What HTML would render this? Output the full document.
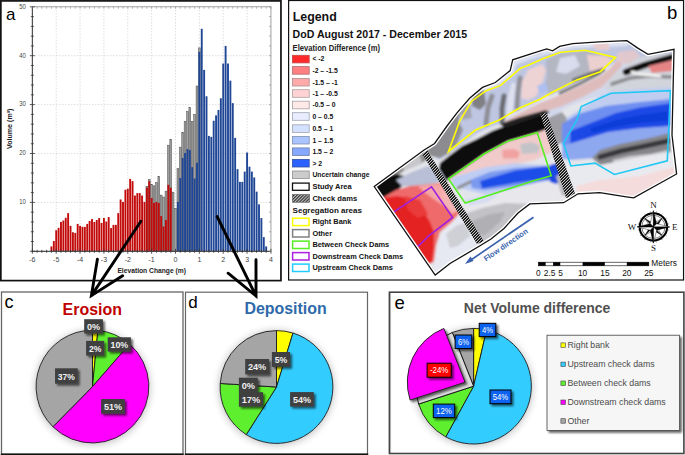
<!DOCTYPE html><html><head><meta charset="utf-8"><style>html,body{margin:0;padding:0;background:#fff;width:685px;height:455px;overflow:hidden}svg{display:block}text{font-family:"Liberation Sans",sans-serif}</style></head><body>
<svg width="685" height="455" viewBox="0 0 685 455">
<defs><pattern id="hatch" width="2.2" height="2.2" patternUnits="userSpaceOnUse" patternTransform="rotate(45)"><rect width="2.2" height="2.2" fill="#c0c0c0"/><rect width="1" height="2.2" fill="#222"/></pattern><filter id="sh" x="-20%" y="-20%" width="160%" height="160%"><feGaussianBlur in="SourceAlpha" stdDeviation="1"/><feOffset dx="1.5" dy="1.5"/><feComponentTransfer><feFuncA type="linear" slope="0.6"/></feComponentTransfer><feMerge><feMergeNode/><feMergeNode in="SourceGraphic"/></feMerge></filter><filter id="pshadow" x="-30%" y="-30%" width="160%" height="160%"><feGaussianBlur in="SourceAlpha" stdDeviation="4.5"/><feOffset dx="0" dy="1"/><feComponentTransfer><feFuncA type="linear" slope="0.3"/></feComponentTransfer><feMerge><feMergeNode/><feMergeNode in="SourceGraphic"/></feMerge></filter></defs>
<rect x="0.85" y="0.9" width="280.1" height="279.7" fill="#fff" stroke="#111" stroke-width="1.7"/>
<text x="6" y="19.6" font-size="17" fill="#000">a</text>
<path d="M32.34,202.40H270.94M32.34,153.50H270.94M32.34,104.60H270.94M32.34,55.70H270.94M56.20,251.30V6.80M80.06,251.30V6.80M103.92,251.30V6.80M127.78,251.30V6.80M151.64,251.30V6.80M175.50,251.30V6.80M199.36,251.30V6.80M223.22,251.30V6.80M247.08,251.30V6.80" stroke="#b8b8b8" stroke-width="0.7" stroke-dasharray="1 2" fill="none"/>
<rect x="145.97" y="186.26" width="1.79" height="65.04" fill="#a0a0a0" stroke="#505050" stroke-width="0.5"/>
<rect x="148.36" y="179.42" width="1.79" height="71.88" fill="#a0a0a0" stroke="#505050" stroke-width="0.5"/>
<rect x="150.75" y="184.31" width="1.79" height="66.99" fill="#a0a0a0" stroke="#505050" stroke-width="0.5"/>
<rect x="153.13" y="185.77" width="1.79" height="65.53" fill="#a0a0a0" stroke="#505050" stroke-width="0.5"/>
<rect x="155.52" y="182.35" width="1.79" height="68.95" fill="#a0a0a0" stroke="#505050" stroke-width="0.5"/>
<rect x="157.91" y="176.48" width="1.79" height="74.82" fill="#a0a0a0" stroke="#505050" stroke-width="0.5"/>
<rect x="160.29" y="195.06" width="1.79" height="56.24" fill="#a0a0a0" stroke="#505050" stroke-width="0.5"/>
<rect x="162.68" y="197.02" width="1.79" height="54.28" fill="#a0a0a0" stroke="#505050" stroke-width="0.5"/>
<rect x="165.06" y="191.15" width="1.79" height="60.15" fill="#a0a0a0" stroke="#505050" stroke-width="0.5"/>
<rect x="167.45" y="145.19" width="1.79" height="106.11" fill="#a0a0a0" stroke="#505050" stroke-width="0.5"/>
<rect x="169.84" y="139.32" width="1.79" height="111.98" fill="#a0a0a0" stroke="#505050" stroke-width="0.5"/>
<rect x="172.22" y="192.13" width="1.79" height="59.17" fill="#a0a0a0" stroke="#505050" stroke-width="0.5"/>
<rect x="174.61" y="208.27" width="1.79" height="43.03" fill="#a0a0a0" stroke="#505050" stroke-width="0.5"/>
<rect x="176.99" y="168.66" width="1.79" height="82.64" fill="#a0a0a0" stroke="#505050" stroke-width="0.5"/>
<rect x="179.38" y="147.14" width="1.79" height="104.16" fill="#a0a0a0" stroke="#505050" stroke-width="0.5"/>
<rect x="181.76" y="132.47" width="1.79" height="118.83" fill="#a0a0a0" stroke="#505050" stroke-width="0.5"/>
<rect x="184.15" y="121.23" width="1.79" height="130.07" fill="#a0a0a0" stroke="#505050" stroke-width="0.5"/>
<rect x="186.54" y="111.45" width="1.79" height="139.85" fill="#a0a0a0" stroke="#505050" stroke-width="0.5"/>
<rect x="188.92" y="107.53" width="1.79" height="143.77" fill="#a0a0a0" stroke="#505050" stroke-width="0.5"/>
<rect x="191.31" y="121.23" width="1.79" height="130.07" fill="#a0a0a0" stroke="#505050" stroke-width="0.5"/>
<rect x="193.69" y="114.38" width="1.79" height="136.92" fill="#a0a0a0" stroke="#505050" stroke-width="0.5"/>
<rect x="196.08" y="86.02" width="1.79" height="165.28" fill="#a0a0a0" stroke="#505050" stroke-width="0.5"/>
<rect x="198.47" y="47.88" width="1.79" height="203.42" fill="#a0a0a0" stroke="#505050" stroke-width="0.5"/>
<rect x="50.48" y="246.41" width="1.89" height="4.89" fill="#c20a0a"/>
<rect x="52.87" y="241.03" width="1.89" height="10.27" fill="#c20a0a"/>
<rect x="55.26" y="230.27" width="1.89" height="21.03" fill="#c20a0a"/>
<rect x="57.64" y="227.83" width="1.89" height="23.47" fill="#c20a0a"/>
<rect x="60.03" y="221.96" width="1.89" height="29.34" fill="#c20a0a"/>
<rect x="62.42" y="220.49" width="1.89" height="30.81" fill="#c20a0a"/>
<rect x="64.80" y="217.80" width="1.89" height="33.50" fill="#c20a0a"/>
<rect x="67.19" y="213.16" width="1.89" height="38.14" fill="#c20a0a"/>
<rect x="69.57" y="225.87" width="1.89" height="25.43" fill="#c20a0a"/>
<rect x="71.96" y="232.23" width="1.89" height="19.07" fill="#c20a0a"/>
<rect x="74.34" y="232.96" width="1.89" height="18.34" fill="#c20a0a"/>
<rect x="76.73" y="223.92" width="1.89" height="27.38" fill="#c20a0a"/>
<rect x="79.12" y="225.87" width="1.89" height="25.43" fill="#c20a0a"/>
<rect x="81.50" y="226.85" width="1.89" height="24.45" fill="#c20a0a"/>
<rect x="83.89" y="226.85" width="1.89" height="24.45" fill="#c20a0a"/>
<rect x="86.28" y="223.92" width="1.89" height="27.38" fill="#c20a0a"/>
<rect x="88.66" y="220.98" width="1.89" height="30.32" fill="#c20a0a"/>
<rect x="91.05" y="219.03" width="1.89" height="32.27" fill="#c20a0a"/>
<rect x="93.43" y="221.96" width="1.89" height="29.34" fill="#c20a0a"/>
<rect x="95.82" y="220.00" width="1.89" height="31.30" fill="#c20a0a"/>
<rect x="98.20" y="218.05" width="1.89" height="33.25" fill="#c20a0a"/>
<rect x="100.59" y="222.94" width="1.89" height="28.36" fill="#c20a0a"/>
<rect x="102.98" y="218.05" width="1.89" height="33.25" fill="#c20a0a"/>
<rect x="105.36" y="221.47" width="1.89" height="29.83" fill="#c20a0a"/>
<rect x="107.75" y="217.07" width="1.89" height="34.23" fill="#c20a0a"/>
<rect x="110.14" y="228.07" width="1.89" height="23.23" fill="#c20a0a"/>
<rect x="112.52" y="224.89" width="1.89" height="26.41" fill="#c20a0a"/>
<rect x="114.91" y="224.89" width="1.89" height="26.41" fill="#c20a0a"/>
<rect x="117.29" y="213.16" width="1.89" height="38.14" fill="#c20a0a"/>
<rect x="119.68" y="199.47" width="1.89" height="51.83" fill="#c20a0a"/>
<rect x="122.06" y="201.91" width="1.89" height="49.39" fill="#c20a0a"/>
<rect x="124.45" y="189.69" width="1.89" height="61.61" fill="#c20a0a"/>
<rect x="126.84" y="188.71" width="1.89" height="62.59" fill="#c20a0a"/>
<rect x="129.22" y="178.93" width="1.89" height="72.37" fill="#c20a0a"/>
<rect x="131.61" y="181.13" width="1.89" height="70.17" fill="#c20a0a"/>
<rect x="133.99" y="195.55" width="1.89" height="55.75" fill="#c20a0a"/>
<rect x="136.38" y="193.11" width="1.89" height="58.19" fill="#c20a0a"/>
<rect x="138.77" y="193.11" width="1.89" height="58.19" fill="#c20a0a"/>
<rect x="141.15" y="195.55" width="1.89" height="55.75" fill="#c20a0a"/>
<rect x="143.54" y="201.91" width="1.89" height="49.39" fill="#c20a0a"/>
<rect x="145.92" y="187.73" width="1.89" height="63.57" fill="#c20a0a"/>
<rect x="148.31" y="181.13" width="1.89" height="70.17" fill="#c20a0a"/>
<rect x="150.70" y="198.00" width="1.89" height="53.30" fill="#c20a0a"/>
<rect x="153.08" y="202.89" width="1.89" height="48.41" fill="#c20a0a"/>
<rect x="155.47" y="201.91" width="1.89" height="49.39" fill="#c20a0a"/>
<rect x="157.85" y="202.89" width="1.89" height="48.41" fill="#c20a0a"/>
<rect x="160.24" y="216.09" width="1.89" height="35.21" fill="#c20a0a"/>
<rect x="162.63" y="226.36" width="1.89" height="24.94" fill="#c20a0a"/>
<rect x="165.01" y="220.00" width="1.89" height="31.30" fill="#c20a0a"/>
<rect x="167.40" y="184.80" width="1.89" height="66.50" fill="#c20a0a"/>
<rect x="169.78" y="187.73" width="1.89" height="63.57" fill="#c20a0a"/>
<rect x="176.94" y="201.91" width="1.89" height="49.39" fill="#1f4796"/>
<rect x="179.33" y="177.95" width="1.89" height="73.35" fill="#1f4796"/>
<rect x="181.71" y="157.90" width="1.89" height="93.40" fill="#1f4796"/>
<rect x="184.10" y="153.01" width="1.89" height="98.29" fill="#1f4796"/>
<rect x="186.49" y="149.10" width="1.89" height="102.20" fill="#1f4796"/>
<rect x="188.87" y="150.08" width="1.89" height="101.22" fill="#1f4796"/>
<rect x="191.26" y="167.19" width="1.89" height="84.11" fill="#1f4796"/>
<rect x="193.64" y="178.44" width="1.89" height="72.86" fill="#1f4796"/>
<rect x="196.03" y="162.79" width="1.89" height="88.51" fill="#1f4796"/>
<rect x="198.42" y="51.79" width="1.89" height="199.51" fill="#1f4796"/>
<rect x="200.80" y="28.81" width="1.89" height="222.49" fill="#1f4796"/>
<rect x="203.19" y="69.88" width="1.89" height="181.42" fill="#1f4796"/>
<rect x="205.57" y="96.29" width="1.89" height="155.01" fill="#1f4796"/>
<rect x="207.96" y="135.90" width="1.89" height="115.40" fill="#1f4796"/>
<rect x="210.35" y="136.87" width="1.89" height="114.43" fill="#1f4796"/>
<rect x="212.73" y="120.74" width="1.89" height="130.56" fill="#1f4796"/>
<rect x="215.12" y="115.36" width="1.89" height="135.94" fill="#1f4796"/>
<rect x="217.50" y="109.98" width="1.89" height="141.32" fill="#1f4796"/>
<rect x="219.89" y="98.24" width="1.89" height="153.06" fill="#1f4796"/>
<rect x="222.28" y="63.52" width="1.89" height="187.78" fill="#1f4796"/>
<rect x="224.66" y="45.92" width="1.89" height="205.38" fill="#1f4796"/>
<rect x="227.05" y="63.52" width="1.89" height="187.78" fill="#1f4796"/>
<rect x="229.43" y="80.64" width="1.89" height="170.66" fill="#1f4796"/>
<rect x="231.82" y="103.13" width="1.89" height="148.17" fill="#1f4796"/>
<rect x="234.21" y="137.85" width="1.89" height="113.45" fill="#1f4796"/>
<rect x="236.59" y="169.15" width="1.89" height="82.15" fill="#1f4796"/>
<rect x="238.98" y="181.86" width="1.89" height="69.44" fill="#1f4796"/>
<rect x="241.36" y="181.86" width="1.89" height="69.44" fill="#1f4796"/>
<rect x="243.75" y="171.59" width="1.89" height="79.71" fill="#1f4796"/>
<rect x="246.14" y="152.52" width="1.89" height="98.78" fill="#1f4796"/>
<rect x="248.52" y="166.70" width="1.89" height="84.60" fill="#1f4796"/>
<rect x="250.91" y="171.59" width="1.89" height="79.71" fill="#1f4796"/>
<rect x="253.29" y="177.46" width="1.89" height="73.84" fill="#1f4796"/>
<rect x="255.68" y="191.64" width="1.89" height="59.66" fill="#1f4796"/>
<rect x="258.07" y="204.36" width="1.89" height="46.94" fill="#1f4796"/>
<rect x="260.45" y="218.05" width="1.89" height="33.25" fill="#1f4796"/>
<rect x="262.84" y="237.12" width="1.89" height="14.18" fill="#1f4796"/>
<rect x="265.23" y="246.41" width="1.89" height="4.89" fill="#1f4796"/>
<rect x="32.34" y="6.80" width="238.60" height="244.50" fill="none" stroke="#888" stroke-width="0.8"/>
<path d="M32.34,251.30H270.94M32.34,251.30V6.80" stroke="#333" stroke-width="0.9" fill="none"/>
<path d="M29.84,251.30h5M30.84,241.52h3M30.84,231.74h3M30.84,221.96h3M30.84,212.18h3M29.84,202.40h5M30.84,192.62h3M30.84,182.84h3M30.84,173.06h3M30.84,163.28h3M29.84,153.50h5M30.84,143.72h3M30.84,133.94h3M30.84,124.16h3M30.84,114.38h3M29.84,104.60h5M30.84,94.82h3M30.84,85.04h3M30.84,75.26h3M30.84,65.48h3M29.84,55.70h5M30.84,45.92h3M30.84,36.14h3M30.84,26.36h3M30.84,16.58h3M29.84,6.80h5M32.34,248.80v5M37.11,249.80v3M41.88,249.80v3M46.66,249.80v3M51.43,249.80v3M56.20,248.80v5M60.97,249.80v3M65.74,249.80v3M70.52,249.80v3M75.29,249.80v3M80.06,248.80v5M84.83,249.80v3M89.60,249.80v3M94.38,249.80v3M99.15,249.80v3M103.92,248.80v5M108.69,249.80v3M113.46,249.80v3M118.24,249.80v3M123.01,249.80v3M127.78,248.80v5M132.55,249.80v3M137.32,249.80v3M142.10,249.80v3M146.87,249.80v3M151.64,248.80v5M156.41,249.80v3M161.18,249.80v3M165.96,249.80v3M170.73,249.80v3M175.50,248.80v5M180.27,249.80v3M185.04,249.80v3M189.82,249.80v3M194.59,249.80v3M199.36,248.80v5M204.13,249.80v3M208.90,249.80v3M213.68,249.80v3M218.45,249.80v3M223.22,248.80v5M227.99,249.80v3M232.76,249.80v3M237.54,249.80v3M242.31,249.80v3M247.08,248.80v5M251.85,249.80v3M256.62,249.80v3M261.40,249.80v3M266.17,249.80v3M270.94,248.80v5" stroke="#333" stroke-width="0.8" fill="none"/>
<path d="M270.94,251.30h-2M270.94,241.52h-2M270.94,231.74h-2M270.94,221.96h-2M270.94,212.18h-2M270.94,202.40h-2M270.94,192.62h-2M270.94,182.84h-2M270.94,173.06h-2M270.94,163.28h-2M270.94,153.50h-2M270.94,143.72h-2M270.94,133.94h-2M270.94,124.16h-2M270.94,114.38h-2M270.94,104.60h-2M270.94,94.82h-2M270.94,85.04h-2M270.94,75.26h-2M270.94,65.48h-2M270.94,55.70h-2M270.94,45.92h-2M270.94,36.14h-2M270.94,26.36h-2M270.94,16.58h-2M270.94,6.80h-2M32.34,6.80v2M37.11,6.80v2M41.88,6.80v2M46.66,6.80v2M51.43,6.80v2M56.20,6.80v2M60.97,6.80v2M65.74,6.80v2M70.52,6.80v2M75.29,6.80v2M80.06,6.80v2M84.83,6.80v2M89.60,6.80v2M94.38,6.80v2M99.15,6.80v2M103.92,6.80v2M108.69,6.80v2M113.46,6.80v2M118.24,6.80v2M123.01,6.80v2M127.78,6.80v2M132.55,6.80v2M137.32,6.80v2M142.10,6.80v2M146.87,6.80v2M151.64,6.80v2M156.41,6.80v2M161.18,6.80v2M165.96,6.80v2M170.73,6.80v2M175.50,6.80v2M180.27,6.80v2M185.04,6.80v2M189.82,6.80v2M194.59,6.80v2M199.36,6.80v2M204.13,6.80v2M208.90,6.80v2M213.68,6.80v2M218.45,6.80v2M223.22,6.80v2M227.99,6.80v2M232.76,6.80v2M237.54,6.80v2M242.31,6.80v2M247.08,6.80v2M251.85,6.80v2M256.62,6.80v2M261.40,6.80v2M266.17,6.80v2M270.94,6.80v2" stroke="#888" stroke-width="0.6" fill="none"/>
<text x="25.84" y="204.20" font-size="7" fill="#444" text-anchor="end" textLength="6.6" lengthAdjust="spacingAndGlyphs">10</text>
<text x="25.84" y="155.30" font-size="7" fill="#444" text-anchor="end" textLength="6.6" lengthAdjust="spacingAndGlyphs">20</text>
<text x="25.84" y="106.40" font-size="7" fill="#444" text-anchor="end" textLength="6.6" lengthAdjust="spacingAndGlyphs">30</text>
<text x="25.84" y="57.50" font-size="7" fill="#444" text-anchor="end" textLength="6.6" lengthAdjust="spacingAndGlyphs">40</text>
<text x="25.84" y="8.60" font-size="7" fill="#444" text-anchor="end" textLength="6.6" lengthAdjust="spacingAndGlyphs">50</text>
<text x="32.34" y="261.90" font-size="7" fill="#444" text-anchor="middle">-6</text>
<text x="56.20" y="261.90" font-size="7" fill="#444" text-anchor="middle">-5</text>
<text x="80.06" y="261.90" font-size="7" fill="#444" text-anchor="middle">-4</text>
<text x="103.92" y="261.90" font-size="7" fill="#444" text-anchor="middle">-3</text>
<text x="127.78" y="261.90" font-size="7" fill="#444" text-anchor="middle">-2</text>
<text x="151.64" y="261.90" font-size="7" fill="#444" text-anchor="middle">-1</text>
<text x="175.50" y="261.90" font-size="7" fill="#444" text-anchor="middle">0</text>
<text x="199.36" y="261.90" font-size="7" fill="#444" text-anchor="middle">1</text>
<text x="223.22" y="261.90" font-size="7" fill="#444" text-anchor="middle">2</text>
<text x="247.08" y="261.90" font-size="7" fill="#444" text-anchor="middle">3</text>
<text x="270.94" y="261.90" font-size="7" fill="#444" text-anchor="middle">4</text>
<text x="151.7" y="272.7" font-size="7.3" font-weight="bold" fill="#222" text-anchor="middle" textLength="68.6" lengthAdjust="spacingAndGlyphs">Elevation Change (m)</text>
<text transform="translate(11.9,128.8) rotate(-90)" font-size="7.1" font-weight="bold" fill="#222" text-anchor="middle">Volume  (m³)</text>
<rect x="288.6" y="0.5" width="394.95" height="279.5" fill="#fff" stroke="#111" stroke-width="1.2"/>
<text x="666.9" y="18.6" font-size="18.5" fill="#000">b</text>
<text x="292.7" y="20.6" font-size="12.4" font-weight="bold" fill="#111">Legend</text>
<text x="292.6" y="38.1" font-size="10.6" font-weight="bold" fill="#111">DoD August 2017 - December 2015</text>
<text x="292.6" y="50.6" font-size="8.5" font-weight="bold" fill="#222" textLength="87.4" lengthAdjust="spacingAndGlyphs">Elevation Difference (m)</text>
<rect x="292.4" y="55.3" width="16.8" height="7.6" fill="#ff2a2a" stroke="#c04848" stroke-width="0.8"/>
<text x="312.4" y="61.4" font-size="6.8" font-weight="bold" fill="#111">&lt; -2</text>
<rect x="292.4" y="66.6" width="16.8" height="7.6" fill="#ff8080" stroke="#b07070" stroke-width="0.8"/>
<text x="312.4" y="72.7" font-size="6.8" font-weight="bold" fill="#111">-2 – -1.5</text>
<rect x="292.4" y="78.4" width="16.8" height="7.6" fill="#ffaaaa" stroke="#b09090" stroke-width="0.8"/>
<text x="312.4" y="84.5" font-size="6.8" font-weight="bold" fill="#111">-1.5 – -1</text>
<rect x="292.4" y="89.7" width="16.8" height="7.6" fill="#ffd3d3" stroke="#b0a0a0" stroke-width="0.8"/>
<text x="312.4" y="95.8" font-size="6.8" font-weight="bold" fill="#111">-1 – -0.5</text>
<rect x="292.4" y="101.2" width="16.8" height="7.6" fill="#ffe9e9" stroke="#a8a0a0" stroke-width="0.8"/>
<text x="312.4" y="107.3" font-size="6.8" font-weight="bold" fill="#111">-0.5 – 0</text>
<rect x="292.4" y="112.7" width="16.8" height="7.6" fill="#e8eeff" stroke="#a0a4b0" stroke-width="0.8"/>
<text x="312.4" y="118.8" font-size="6.8" font-weight="bold" fill="#111">0 – 0.5</text>
<rect x="292.4" y="124.8" width="16.8" height="7.6" fill="#d4e0ff" stroke="#a0a4b0" stroke-width="0.8"/>
<text x="312.4" y="130.9" font-size="6.8" font-weight="bold" fill="#111">0.5 – 1</text>
<rect x="292.4" y="136.4" width="16.8" height="7.6" fill="#aac4ff" stroke="#8090b0" stroke-width="0.8"/>
<text x="312.4" y="142.5" font-size="6.8" font-weight="bold" fill="#111">1 – 1.5</text>
<rect x="292.4" y="147.9" width="16.8" height="7.6" fill="#86a8ff" stroke="#7080a8" stroke-width="0.8"/>
<text x="312.4" y="154.0" font-size="6.8" font-weight="bold" fill="#111">1.5 – 2</text>
<rect x="292.4" y="159.4" width="16.8" height="7.6" fill="#2b62ff" stroke="#3050a0" stroke-width="0.8"/>
<text x="312.4" y="165.5" font-size="6.8" font-weight="bold" fill="#111">&gt; 2</text>
<rect x="292.4" y="171.0" width="16.8" height="7.6" fill="#cccccc" stroke="#909090" stroke-width="0.8"/>
<text x="312.4" y="177.1" font-size="6.8" font-weight="bold" fill="#111">Uncertain change</text>
<rect x="292.5" y="183.1" width="16.6" height="7.2" fill="#fff" stroke="#111" stroke-width="1.3"/>
<text x="312.4" y="189.3" font-size="7.5" font-weight="bold" fill="#111">Study Area</text>
<rect x="292.3" y="194.3" width="17.4" height="8" fill="url(#hatch)" stroke="#666" stroke-width="0.6"/>
<text x="312.4" y="201.3" font-size="7.6" font-weight="bold" fill="#111">Check dams</text>
<text x="292.6" y="213.2" font-size="8" font-weight="bold" fill="#111">Segregation areas</text>
<rect x="292.6" y="218.2" width="16.4" height="7.4" fill="#fff" stroke="#ffff00" stroke-width="1.5"/>
<text x="312.4" y="224.3" font-size="7.4" font-weight="bold" fill="#111">Right Bank</text>
<rect x="292.6" y="229.6" width="16.4" height="7.4" fill="#fff" stroke="#808080" stroke-width="1.5"/>
<text x="312.4" y="235.7" font-size="7.4" font-weight="bold" fill="#111">Other</text>
<rect x="292.6" y="241.1" width="16.4" height="7.4" fill="#fff" stroke="#55ee22" stroke-width="1.5"/>
<text x="312.4" y="247.2" font-size="7.4" font-weight="bold" fill="#111">Between Check Dams</text>
<rect x="292.6" y="252.6" width="16.4" height="7.4" fill="#fff" stroke="#aa22dd" stroke-width="1.5"/>
<text x="312.4" y="258.7" font-size="7.4" font-weight="bold" fill="#111">Downstream Check Dams</text>
<rect x="292.6" y="264.1" width="16.4" height="7.4" fill="#fff" stroke="#22ccff" stroke-width="1.5"/>
<text x="312.4" y="270.2" font-size="7.4" font-weight="bold" fill="#111">Upstream Check Dams</text>
<defs>
<clipPath id="mapclip"><polygon points="374.2,186.5 424.1,150 434.6,143.5 447,126 456.8,113.1 469.6,98.3 482.5,87.4 495.3,82.5 510.2,70.6 512.7,59.8 530.9,53.8 546.7,48.9 552.6,50.9 559.6,46.4 572.8,43.7 599.2,41.9 626.9,40.6 637.4,47.9 648,54.3 674,49.4 672,135 676.6,174 633.7,197.9 626.5,196.9 599.8,192.6 578,193.8 563.7,202.7 529.8,203.9 518,213 504,228.5 491,239 480,245.8 450,263.5 435.2,275.1"/></clipPath>
<filter id="mblur" x="-5%" y="-5%" width="110%" height="110%"><feGaussianBlur stdDeviation="1.2"/></filter>
<filter id="tex" x="0" y="0" width="100%" height="100%"><feTurbulence type="fractalNoise" baseFrequency="0.35" numOctaves="2" seed="3"/><feColorMatrix type="matrix" values="0 0 0 0 0  0 0 0 0 0  0 0 0 0 0  0 0 0 -1.6 1.0"/><feComposite in2="SourceGraphic" operator="in"/></filter>
<pattern id="hd1" width="3" height="3" patternUnits="userSpaceOnUse"><rect width="3" height="3" fill="#c8c8c8"/><rect x="0" y="2" width="1" height="1" fill="#080808"/><rect x="1" y="1" width="1" height="1" fill="#080808"/><rect x="2" y="0" width="1" height="1" fill="#080808"/><rect x="0" y="1" width="1" height="1" fill="#404040"/><rect x="1" y="0" width="1" height="1" fill="#404040"/><rect x="2" y="2" width="1" height="1" fill="#404040"/></pattern>
<pattern id="hd2" width="3" height="3" patternUnits="userSpaceOnUse"><rect width="3" height="3" fill="#c8c8c8"/><rect x="0" y="2" width="1" height="1" fill="#080808"/><rect x="1" y="1" width="1" height="1" fill="#080808"/><rect x="2" y="0" width="1" height="1" fill="#080808"/><rect x="0" y="1" width="1" height="1" fill="#404040"/><rect x="1" y="0" width="1" height="1" fill="#404040"/><rect x="2" y="2" width="1" height="1" fill="#404040"/></pattern>
<filter id="hs" x="0" y="0" width="100%" height="100%" filterUnits="objectBoundingBox"><feTurbulence type="fractalNoise" baseFrequency="0.12 0.2" numOctaves="3" seed="7" result="n"/><feColorMatrix in="n" type="matrix" values="0 0 0 0 0.05  0 0 0 0 0.05  0 0 0 0 0.05  -2.4 0 0 0 1.3"/></filter>
</defs>
<g clip-path="url(#mapclip)"><g filter="url(#mblur)">
<polygon points="374.2,186.5 424.1,150 434.6,143.5 447,126 456.8,113.1 469.6,98.3 482.5,87.4 495.3,82.5 510.2,70.6 512.7,59.8 530.9,53.8 546.7,48.9 552.6,50.9 559.6,46.4 572.8,43.7 599.2,41.9 626.9,40.6 637.4,47.9 648,54.3 674,49.4 672,135 676.6,174 633.7,197.9 626.5,196.9 599.8,192.6 578,193.8 563.7,202.7 529.8,203.9 518,213 504,228.5 491,239 480,245.8 450,263.5 435.2,275.1" fill="#e4e5ea"/>
<polygon points="420,150 434.6,143.5 447,126 456.8,113.1 469.6,98.3 482.5,87.4 495.3,82.5 510.2,70.6 512.7,59.8 530.9,53.8 546.7,48.9 552.6,50.9 559.6,46.4 572.8,43.7 599.2,41.9 626.9,40.6 637.4,47.9 648,54.3 674,49.4 674,62 634,66 618,60 600,72 577,80 552,92 535,103 515,112 500,123.7 489,127.7 476,134.3 463,143.5 450,152.7 440,160" fill="#bec6e2"/>
<path d="M436,144 L448,128 L458,115 L470,101 L483,90 L496,85 L511,74 L515,63 L531,57 L547,52 L560,49 L573,46.5 L600,45 L626,44" stroke="#dfe3f2" stroke-width="4" fill="none" stroke-linecap="round" stroke-linejoin="round"/>
<polygon points="424,150 434.6,143.5 447,126 456.8,113.1 462,108 458,122 452,140 449,153 440,158 430,156" fill="#8c8c90"/>
<polygon points="450,126 458,120 463,130 456,146 450,150" fill="#909094"/>
<polygon points="472,93 484,90 486,104 480,110 472,106" fill="#808084"/>
<polygon points="460,105 470,104 472,118 462,120" fill="#a4a4ac"/>
<path d="M486,124 L488,108 L492,96" stroke="#8e8e94" stroke-width="5" fill="none" stroke-linecap="round" stroke-linejoin="round"/>
<path d="M502,122 L502,108 L504,96" stroke="#6c6c70" stroke-width="5" fill="none" stroke-linecap="round" stroke-linejoin="round"/>
<path d="M517,108 L518,92 L520,78" stroke="#909096" stroke-width="5" fill="none" stroke-linecap="round" stroke-linejoin="round"/>
<polygon points="506,118 508,96 512,82 516,84 514,100 512,118" fill="#dde0ee"/>
<polygon points="521,98 522,82 528,70 542,64 546,70 542,84 536,96 528,100" fill="#edd3d3"/>
<polygon points="537,86 546,82 550,90 540,94" fill="#aebff0"/>
<polygon points="547,62 558,58 560,72 552,88 546,84 548,72" fill="#a8a8b4"/>
<polygon points="546,60 560,54 585,51 612,56 604,68 585,78 565,88 548,96" fill="#b4b6c2"/>
<polygon points="560,58 575,55 580,66 566,74 556,72" fill="#d8dcec"/>
<polygon points="587,55 606,56 612,60 604,70 590,72" fill="#ecd0d0"/>
<path d="M574,80 L590,74 L603,70" stroke="#707074" stroke-width="4" fill="none" stroke-linecap="round" stroke-linejoin="round"/>
<polygon points="592,44 608,43 610,50 596,50" fill="#e8cccc"/>
<path d="M520,56 L540,52" stroke="#b0b0bc" stroke-width="3" fill="none" stroke-linecap="round" stroke-linejoin="round"/>
<polygon points="546,112 560.4,104.5 580.9,95.5 601.3,85 611.5,74 620,64 672,62 672,90 640,92 611,93 585,100 565,108 552,118" fill="#d2d8ec"/>
<polygon points="505,121 520,113 540,103 560.4,94.9 580.9,85.7 601.3,75.4 611.5,67.3 617.7,59.1 623,58 622,66 612.5,76 602,87 581.5,97.5 561,106.5 541,112.5 521,120.5 506,127" fill="#dfbcbc"/>
<path d="M560,93 L580,83.5 L600,73" stroke="#505054" stroke-width="3" fill="none" stroke-linecap="round" stroke-linejoin="round" opacity="0.8"/>
<path d="M510,126 L530,119 L548,112" stroke="#2a2a2a" stroke-width="2.5" fill="none" stroke-linecap="round" stroke-linejoin="round" opacity="0.8"/>
<polygon points="616,58 634,58 674,52 674,90 640,90 612,92 605,88 612,76 628,66" fill="#d2d4dc"/>
<polygon points="618,52 634,50 640,56 628,64 616,62" fill="#e0c8cc"/>
<path d="M626,72 L645,65 L673,57" stroke="#111" stroke-width="6.5" fill="none" stroke-linecap="round" stroke-linejoin="round"/>
<polygon points="648,66 673,60 674,71 652,73" fill="#e58585"/>
<path d="M612,84 L630,78 L650,76 L672,77" stroke="#7a7a7e" stroke-width="3.5" fill="none" stroke-linecap="round" stroke-linejoin="round" opacity="0.8"/>
<path d="M632,72 L640,74 L660,76" stroke="#f2f2f2" stroke-width="3" fill="none" stroke-linecap="round" stroke-linejoin="round"/>
<polygon points="440,163 450,155 462,146 477,139 492,131 515,122 530,117 546,111 549,129 537.2,133 508.2,141.4 483.9,154.5 448.4,179.5 444,182 438,176" fill="#0b0b0b"/>
<polygon points="500,124 520,117 546,110 547,114 525,121 505,128" fill="#202020"/>
<polygon points="374,186 392,172 410,160 424,150 430,158 420,164 405,170 392,180" fill="#8e8e8e"/>
<polygon points="400,164 410,158 420,156 422,164 412,168 404,170" fill="#c8c8cc"/>
<polygon points="372,186 386,177 396,174 404,176 404,184 398,190 392,198 386,203 378,198" fill="#0c0c0c"/>
<polygon points="396,180 412,172 428,166 440,170 446,180 432,184 412,186 402,186" fill="#b8bfd6"/>
<polygon points="382,198 396,190 410,186 432,184 446,182 454,196 462,210 452,222 440,232 436,246 434,262 424,266 400,232 390,214" fill="#ef6a6a"/>
<polygon points="381,198 398,196 414,200 424,212 430,222 434,232 434,246 432,262 424,266 404,240 390,214" fill="#e42222"/>
<polygon points="404,196 420,200 428,214 418,218 408,210" fill="#ea3a3a"/>
<polygon points="418,186 440,184 450,194 454,206 444,206 432,198 424,192" fill="#f5a6a6"/>
<polygon points="440,190 452,196 460,210 452,214 444,204" fill="#f4b4b4"/>
<polygon points="434,264 437,246 442,232 452,222 462,212 470,226 482,240 450,263 435,275" fill="#e6e9f2"/>
<polygon points="446,234 456,226 466,222 470,236 458,246 450,248" fill="#cfd0d6"/>
<polygon points="448.4,179 483.9,154.2 508.2,141.1 537.2,132.7 550,128 556,150 535,160 500,168 470,176 456,186" fill="#f1caca"/>
<polygon points="502,150 514,149 520,152 518,158.6 503,158.6" fill="#f0a2a2"/>
<polygon points="452,178 458.7,175.5 486.7,167 514.8,163.3 544.7,165 560,165 562,181 552,182 524,188 486.7,195 458.7,188 452,186" fill="#bfcdf3"/>
<polygon points="470,180 490,172 514.8,168 544.7,166 560,166 561,180 540,182 512,187 484,190 472,188" fill="#7a9af0"/>
<polygon points="480,181 514.8,170.5 544.7,166.5 560,166 561,180 544.7,179 514.8,183 482,188.5" fill="#1c4ee8"/>
<polygon points="520,144 532,142 540,146 538,153 522,154" fill="#c4c4c8"/>
<polygon points="455,200 475,197 500,192 540,182 566,178 570,200 530,204 515,214 482,240 470,226" fill="#e8e8ec"/>
<polygon points="462,200 480,196 500,194 488,202 470,206" fill="#d8dcf0"/>
<polygon points="464,214 482,208 505,203 529.8,203.9 518,213 504,228.5 491,239 480,245.8 472,232" fill="#c3c3c7"/>
<polygon points="470,222 490,214 505,212 500,222 484,236 476,234" fill="#b0b0b4"/>
<path d="M458,188 L470,182" stroke="#888" stroke-width="3" fill="none" stroke-linecap="round" stroke-linejoin="round"/>
<polygon points="548,118 562,112 570,122 566,140 556,146 548,140" fill="#9e9ea4"/>
<polygon points="566,118 585,106 600,96 611,92 640,89 672,87 674,104 640,106 608,108 580,116 568,124" fill="#c0cdf0"/>
<polygon points="562,124 578,114 606,106 640,102 672,99 674,132 640,133 608,136 572,148 562,150" fill="#6e8ff0"/>
<polygon points="570.3,131 594,121.8 616,113 640,107.5 668.7,103.5 672,103 672,127 668.7,126 638,129.5 616,133 594,137.5 570.3,145" fill="#1a4ae6"/>
<polygon points="590,128 616,120 640,115 668,111 668,121 640,123 616,127 592,133" fill="#0f3cd8"/>
<polygon points="562,146 572,143 608,132 640,128 672,126 672,140 640,142 620,148 596,158 570,160 562,158" fill="#8ea8f0"/>
<polygon points="566,166 596,162 620,154 645,148 676,144 677,175 634,198 600,192 578,194 566,190" fill="#e9eaf0"/>
<polygon points="576,186 600,180 640,176 676,166 677,176 634,198 600,192 578,194" fill="#f4dcdc"/>
<polygon points="592,158 600,150 620,144 645,139 670,133 671,152 645,156 620,161 600,165" fill="#86868a"/>
<path d="M600,157 L621,151 L645,146 L668,141" stroke="#2c2c2c" stroke-width="5" fill="none" stroke-linecap="round" stroke-linejoin="round" opacity="0.85"/>
<polygon points="612,160 630,156 650,154 668,150 668,156 640,160 615,164" fill="#e8e8ec" opacity="0.7"/>
<polygon points="550,165 562,162 568,178 556,184 550,182" fill="#1c4ae0"/>
<polygon points="556,176 566,172 572,192 562,196" fill="#b8b8bc"/>
</g>
<polygon points="421,152 427,150 484,241.5 477,244" fill="url(#hd1)"/>
<polygon points="540.3,114.5 546.4,112.5 576,196 566,198" fill="url(#hd2)"/>
</g>
<polygon points="448.5,151.5 459.7,121 471.6,101.2 486.1,90.7 500.6,85.4 520.4,68.3 527,65.7 542.8,58.8 560.4,52.3 585,50.3 615.6,57.4 600.3,71.7 576.8,79.9 552.3,92.2 540,99.3 519,108.2 499.3,120 475.5,130" fill="none" stroke="#ffff00" stroke-width="1.6"/>
<polygon points="448.4,178.8 483.9,154 508.2,140.9 537.2,132.5 551.2,175.8 533.5,180.7 465.2,203.1" fill="none" stroke="#55ee22" stroke-width="1.6"/>
<polygon points="392.8,212.7 431.5,186.8 452.6,217.5 429.1,235.6 417,247.3" fill="none" stroke="#a020e0" stroke-width="1.6"/>
<polygon points="576.9,120 581.2,106.5 611,93.3 670.4,90.7 667.3,160.8 614.4,174.4 595,163.1 570.8,166 563.6,143" fill="none" stroke="#22c8f4" stroke-width="1.6"/>
<polygon points="374.2,186.5 424.1,150 434.6,143.5 447,126 456.8,113.1 469.6,98.3 482.5,87.4 495.3,82.5 510.2,70.6 512.7,59.8 530.9,53.8 546.7,48.9 552.6,50.9 559.6,46.4 572.8,43.7 599.2,41.9 626.9,40.6 637.4,47.9 648,54.3 674,49.4 672,135 676.6,174 633.7,197.9 626.5,196.9 599.8,192.6 578,193.8 563.7,202.7 529.8,203.9 518,213 504,228.5 491,239 480,245.8 450,263.5 435.2,275.1" fill="none" stroke="#fff" stroke-width="4" clip-path="url(#mapclip)"/>
<polygon points="374.2,186.5 424.1,150 434.6,143.5 447,126 456.8,113.1 469.6,98.3 482.5,87.4 495.3,82.5 510.2,70.6 512.7,59.8 530.9,53.8 546.7,48.9 552.6,50.9 559.6,46.4 572.8,43.7 599.2,41.9 626.9,40.6 637.4,47.9 648,54.3 674,49.4 672,135 676.6,174 633.7,197.9 626.5,196.9 599.8,192.6 578,193.8 563.7,202.7 529.8,203.9 518,213 504,228.5 491,239 480,245.8 450,263.5 435.2,275.1" fill="none" stroke="#111" stroke-width="1.3"/>
<path d="M533.5,217.2 L468,262" stroke="#3a62ae" stroke-width="1.7" fill="none"/>
<polygon points="465,263.9 470.5,256.5 473.5,261" fill="#3a62ae"/>
<text transform="translate(486,261.5) rotate(-34.4)" font-size="7.6" font-weight="bold" fill="#4068b0">Flow direction</text>
<rect x="538.4" y="262.2" width="7.4" height="3.6" fill="#000"/>
<rect x="545.8" y="262.2" width="7.3" height="3.6" fill="#fff"/>
<rect x="553.1" y="262.2" width="7.4" height="3.6" fill="#000"/>
<rect x="560.5" y="262.2" width="22.1" height="3.6" fill="#fff"/>
<rect x="582.6" y="262.2" width="22.3" height="3.6" fill="#000"/>
<rect x="604.9" y="262.2" width="21.9" height="3.6" fill="#fff"/>
<rect x="626.8" y="262.2" width="22.0" height="3.6" fill="#000"/>
<rect x="538.4" y="262.2" width="110.4" height="3.6" fill="none" stroke="#000" stroke-width="0.6"/>
<text x="651.3" y="266" font-size="8.4" fill="#111">Meters</text>
<text x="538.4" y="275.8" font-size="8.4" fill="#111" text-anchor="middle">0</text>
<text x="549.6" y="275.8" font-size="8.4" fill="#111" text-anchor="middle">2.5</text>
<text x="560.5" y="275.8" font-size="8.4" fill="#111" text-anchor="middle">5</text>
<text x="582.6" y="275.8" font-size="8.4" fill="#111" text-anchor="middle">10</text>
<text x="604.9" y="275.8" font-size="8.4" fill="#111" text-anchor="middle">15</text>
<text x="626.8" y="275.8" font-size="8.4" fill="#111" text-anchor="middle">20</text>
<text x="648.8" y="275.8" font-size="8.4" fill="#111" text-anchor="middle">25</text>
<circle cx="653.4" cy="226.9" r="13.7" fill="#fff" stroke="#000" stroke-width="2.1"/>
<circle cx="653.4" cy="226.9" r="11.6" fill="none" stroke="#000" stroke-width="0.5"/>
<path d="M656.25,212.58L656.48,211.40M661.51,214.76L662.18,213.76M665.54,218.79L666.54,218.12M667.72,224.05L668.90,223.82M667.72,229.75L668.90,229.98M665.54,235.01L666.54,235.68M661.51,239.04L662.18,240.04M656.25,241.22L656.48,242.40M650.55,241.22L650.32,242.40M645.29,239.04L644.62,240.04M641.26,235.01L640.26,235.68M639.08,229.75L637.90,229.98M639.08,224.05L637.90,223.82M641.26,218.79L640.26,218.12M645.29,214.76L644.62,213.76M650.55,212.58L650.32,211.40" stroke="#666" stroke-width="0.6"/>
<polygon points="653.4,226.9 653.40,223.50 661.89,218.41" fill="#fff" stroke="#000" stroke-width="0.4"/>
<polygon points="653.4,226.9 661.89,218.41 656.80,226.90" fill="#000" stroke="#000" stroke-width="0.4"/>
<polygon points="653.4,226.9 656.80,226.90 661.89,235.39" fill="#fff" stroke="#000" stroke-width="0.4"/>
<polygon points="653.4,226.9 661.89,235.39 653.40,230.30" fill="#000" stroke="#000" stroke-width="0.4"/>
<polygon points="653.4,226.9 653.40,230.30 644.91,235.39" fill="#fff" stroke="#000" stroke-width="0.4"/>
<polygon points="653.4,226.9 644.91,235.39 650.00,226.90" fill="#000" stroke="#000" stroke-width="0.4"/>
<polygon points="653.4,226.9 650.00,226.90 644.91,218.41" fill="#fff" stroke="#000" stroke-width="0.4"/>
<polygon points="653.4,226.9 644.91,218.41 653.40,223.50" fill="#000" stroke="#000" stroke-width="0.4"/>
<polygon points="653.4,226.9 650.15,223.65 653.40,210.70" fill="#fff" stroke="#000" stroke-width="0.4"/>
<polygon points="653.4,226.9 653.40,210.70 656.65,223.65" fill="#000" stroke="#000" stroke-width="0.4"/>
<polygon points="653.4,226.9 656.65,223.65 669.60,226.90" fill="#fff" stroke="#000" stroke-width="0.4"/>
<polygon points="653.4,226.9 669.60,226.90 656.65,230.15" fill="#000" stroke="#000" stroke-width="0.4"/>
<polygon points="653.4,226.9 656.65,230.15 653.40,243.10" fill="#fff" stroke="#000" stroke-width="0.4"/>
<polygon points="653.4,226.9 653.40,243.10 650.15,230.15" fill="#000" stroke="#000" stroke-width="0.4"/>
<polygon points="653.4,226.9 650.15,230.15 637.20,226.90" fill="#fff" stroke="#000" stroke-width="0.4"/>
<polygon points="653.4,226.9 637.20,226.90 650.15,223.65" fill="#000" stroke="#000" stroke-width="0.4"/>
<text x="653.4" y="207.9" font-size="9" text-anchor="middle" fill="#111" style="font-family:'Liberation Serif',serif">N</text>
<text x="653.4" y="251.4" font-size="9" text-anchor="middle" fill="#111" style="font-family:'Liberation Serif',serif">S</text>
<text x="632" y="229.8" font-size="9" text-anchor="middle" fill="#111" style="font-family:'Liberation Serif',serif">W</text>
<text x="674.7" y="229.8" font-size="9" text-anchor="middle" fill="#111" style="font-family:'Liberation Serif',serif">E</text>
<rect x="1.5" y="292" width="181.5" height="162.3" fill="#fff" stroke="#666" stroke-width="1.3"/>
<rect x="185.5" y="292.2" width="182" height="162.1" fill="#fff" stroke="#666" stroke-width="1.2"/>
<path d="M390.6,293V453" stroke="#ccc" stroke-width="1"/>
<rect x="389.4" y="292.2" width="294.5" height="161.3" fill="none" stroke="#444" stroke-width="1.6"/>
<path d="M0.8,454.3H183.6M184.8,454.3H368.2" stroke="#111" stroke-width="1.4"/>
<text x="4.6" y="308.1" font-size="18" fill="#000">c</text>
<text x="188.3" y="308.4" font-size="17" fill="#000">d</text>
<text x="394.6" y="308.7" font-size="18.5" fill="#000">e</text>
<text x="62.6" y="314.6" font-size="16" font-weight="bold" fill="#c00000" textLength="59.3" lengthAdjust="spacingAndGlyphs">Erosion</text>
<text x="244.4" y="314.1" font-size="16" font-weight="bold" fill="#2e6aaa" textLength="82.3" lengthAdjust="spacingAndGlyphs">Deposition</text>
<text x="463.8" y="313.2" font-size="14" font-weight="bold" fill="#505050" textLength="146.6" lengthAdjust="spacingAndGlyphs">Net Volume difference</text>
<g filter="url(#pshadow)"><circle cx="92.5" cy="386.6" r="56.4" fill="#fff"/></g>
<path d="M92.50,386.60L92.50,330.20A56.4,56.4 0 0 1 97.91,330.46Z" fill="#ffff00" stroke="#1a1a1a" stroke-width="0.9" stroke-linejoin="round"/>
<path d="M92.50,386.60L97.91,330.46A56.4,56.4 0 0 1 129.58,344.10Z" fill="#5ef02e" stroke="#1a1a1a" stroke-width="0.9" stroke-linejoin="round"/>
<path d="M92.50,386.60L129.58,344.10A56.4,56.4 0 1 1 52.90,426.76Z" fill="#ff00ff" stroke="#1a1a1a" stroke-width="0.9" stroke-linejoin="round"/>
<path d="M92.50,386.60L52.90,426.76A56.4,56.4 0 0 1 92.50,330.20Z" fill="#a5a5a5" stroke="#1a1a1a" stroke-width="0.9" stroke-linejoin="round"/>
<g filter="url(#sh)"><rect x="84.2" y="319.2" width="18.7" height="14.4" fill="#404040"/></g>
<text x="93.55" y="330.00" font-size="9.8" font-weight="bold" fill="#f0f0f0" text-anchor="middle" textLength="13.1" lengthAdjust="spacingAndGlyphs">0%</text>
<g filter="url(#sh)"><rect x="86.1" y="340.9" width="18.1" height="14.7" fill="#404040"/></g>
<text x="95.15" y="351.85" font-size="9.8" font-weight="bold" fill="#f0f0f0" text-anchor="middle" textLength="12.5" lengthAdjust="spacingAndGlyphs">2%</text>
<g filter="url(#sh)"><rect x="107.7" y="337.3" width="23.2" height="14.3" fill="#404040"/></g>
<text x="119.30" y="348.05" font-size="9.8" font-weight="bold" fill="#f0f0f0" text-anchor="middle" textLength="17.6" lengthAdjust="spacingAndGlyphs">10%</text>
<g filter="url(#sh)"><rect x="55.05" y="368.3" width="22.7" height="15.4" fill="#404040"/></g>
<text x="66.38" y="379.60" font-size="9.8" font-weight="bold" fill="#f0f0f0" text-anchor="middle" textLength="17.1" lengthAdjust="spacingAndGlyphs">37%</text>
<g filter="url(#sh)"><rect x="101.1" y="399" width="23.7" height="14.8" fill="#404040"/></g>
<text x="112.95" y="410.00" font-size="9.8" font-weight="bold" fill="#f0f0f0" text-anchor="middle" textLength="18.1" lengthAdjust="spacingAndGlyphs">51%</text>
<g filter="url(#pshadow)"><circle cx="276.5" cy="387" r="56.4" fill="#fff"/></g>
<path d="M276.50,387.00L276.50,330.60A56.4,56.4 0 0 1 292.99,333.06Z" fill="#ffff00" stroke="#1a1a1a" stroke-width="0.9" stroke-linejoin="round"/>
<path d="M276.50,387.00L292.99,333.06A56.4,56.4 0 1 1 246.28,434.62Z" fill="#33ccff" stroke="#1a1a1a" stroke-width="0.9" stroke-linejoin="round"/>
<path d="M276.50,387.00L246.28,434.62A56.4,56.4 0 0 1 220.21,383.46Z" fill="#5ef02e" stroke="#1a1a1a" stroke-width="0.9" stroke-linejoin="round"/>
<path d="M276.50,387.00L220.21,383.46A56.4,56.4 0 0 1 276.50,330.60Z" fill="#a5a5a5" stroke="#1a1a1a" stroke-width="0.9" stroke-linejoin="round"/>
<g filter="url(#sh)"><rect x="271.9" y="352" width="18.2" height="14.9" fill="#404040"/></g>
<text x="281.00" y="363.05" font-size="9.8" font-weight="bold" fill="#f0f0f0" text-anchor="middle" textLength="12.6" lengthAdjust="spacingAndGlyphs">5%</text>
<g filter="url(#sh)"><rect x="245.2" y="359" width="23.8" height="15.4" fill="#404040"/></g>
<text x="257.10" y="370.30" font-size="9.8" font-weight="bold" fill="#f0f0f0" text-anchor="middle" textLength="18.2" lengthAdjust="spacingAndGlyphs">24%</text>
<g filter="url(#sh)"><rect x="238.9" y="377.7" width="18.9" height="14.9" fill="#404040"/></g>
<text x="248.35" y="388.75" font-size="9.8" font-weight="bold" fill="#f0f0f0" text-anchor="middle" textLength="13.3" lengthAdjust="spacingAndGlyphs">0%</text>
<g filter="url(#sh)"><rect x="238.9" y="392.2" width="24.1" height="14.5" fill="#404040"/></g>
<text x="250.95" y="403.05" font-size="9.8" font-weight="bold" fill="#f0f0f0" text-anchor="middle" textLength="18.5" lengthAdjust="spacingAndGlyphs">17%</text>
<g filter="url(#sh)"><rect x="290.1" y="392.1" width="23.7" height="14.5" fill="#404040"/></g>
<text x="301.95" y="402.95" font-size="9.8" font-weight="bold" fill="#f0f0f0" text-anchor="middle" textLength="18.1" lengthAdjust="spacingAndGlyphs">54%</text>
<g filter="url(#pshadow)"><circle cx="473.6" cy="386.2" r="57.8" fill="#fff"/></g>
<path d="M473.60,386.20L473.60,328.40A57.8,57.8 0 0 1 486.60,329.88Z" fill="#ffff00" stroke="#1a1a1a" stroke-width="0.9" stroke-linejoin="round"/>
<path d="M473.60,386.20L486.60,329.88A57.8,57.8 0 1 1 445.75,436.85Z" fill="#33ccff" stroke="#1a1a1a" stroke-width="0.9" stroke-linejoin="round"/>
<path d="M473.60,386.20L445.75,436.85A57.8,57.8 0 0 1 418.63,404.06Z" fill="#5ef02e" stroke="#1a1a1a" stroke-width="0.9" stroke-linejoin="round"/>
<path d="M473.60,386.20L452.32,332.46A57.8,57.8 0 0 1 473.60,328.40Z" fill="#a5a5a5" stroke="#1a1a1a" stroke-width="0.9" stroke-linejoin="round"/>
<path d="M473.60,386.20L418.63,404.06A57.8,57.8 0 0 1 452.32,332.46Z" fill="#dcdcdc" stroke="#1a1a1a" stroke="none" stroke-linejoin="round"/>
<g filter="url(#sh)"><path d="M465.09,382.20L410.12,400.06A57.8,57.8 0 0 1 443.82,328.46Z" fill="#ff00ff" stroke="#1a1a1a" stroke-width="0.9" stroke-linejoin="round"/></g>
<g filter="url(#sh)"><rect x="479.2" y="323.3" width="16.6" height="13.3" fill="#0a64f0" stroke="#000" stroke-width="1"/></g>
<text x="487.50" y="333.15" font-size="9" fill="#fff" text-anchor="middle" textLength="11.0" lengthAdjust="spacingAndGlyphs">4%</text>
<g filter="url(#sh)"><rect x="455.1" y="335" width="16.7" height="13.5" fill="#0a64f0" stroke="#000" stroke-width="1"/></g>
<text x="463.45" y="344.95" font-size="9" fill="#fff" text-anchor="middle" textLength="11.1" lengthAdjust="spacingAndGlyphs">6%</text>
<g filter="url(#sh)"><rect x="427.1" y="363.2" width="24.1" height="14.0" fill="#ff0000" stroke="#000" stroke-width="1"/></g>
<text x="439.15" y="373.40" font-size="9" fill="#fff" text-anchor="middle" textLength="18.5" lengthAdjust="spacingAndGlyphs">-24%</text>
<g filter="url(#sh)"><rect x="433.3" y="404.1" width="21.4" height="13.5" fill="#0a64f0" stroke="#000" stroke-width="1"/></g>
<text x="444.00" y="414.05" font-size="9" fill="#fff" text-anchor="middle" textLength="15.8" lengthAdjust="spacingAndGlyphs">12%</text>
<g filter="url(#sh)"><rect x="490" y="390" width="21.0" height="13.7" fill="#0a64f0" stroke="#000" stroke-width="1"/></g>
<text x="500.50" y="400.05" font-size="9" fill="#fff" text-anchor="middle" textLength="15.4" lengthAdjust="spacingAndGlyphs">54%</text>
<g filter="url(#sh)"><rect x="547" y="335.2" width="132.6" height="95.2" fill="#f6f6f6" stroke="#444" stroke-width="0.8"/></g>
<rect x="560.9" y="342.9" width="4.5" height="4.5" fill="#ffff00" stroke="#444" stroke-width="0.6"/>
<text x="567.5" y="348.0" font-size="8.75" fill="#4a4a4a">Right bank</text>
<rect x="560.9" y="362.1" width="4.5" height="4.5" fill="#33ccff" stroke="#444" stroke-width="0.6"/>
<text x="567.5" y="367.2" font-size="8.75" fill="#4a4a4a">Upstream check dams</text>
<rect x="560.9" y="381.0" width="4.5" height="4.5" fill="#5ef02e" stroke="#444" stroke-width="0.6"/>
<text x="567.5" y="386.1" font-size="8.75" fill="#4a4a4a">Between check dams</text>
<rect x="560.9" y="400.0" width="4.5" height="4.5" fill="#ff00ff" stroke="#444" stroke-width="0.6"/>
<text x="567.5" y="405.1" font-size="8.75" fill="#4a4a4a">Downstream check dams</text>
<rect x="560.9" y="418.7" width="4.5" height="4.5" fill="#a5a5a5" stroke="#444" stroke-width="0.6"/>
<text x="567.5" y="423.8" font-size="8.75" fill="#4a4a4a">Other</text>
<g stroke="#000" stroke-width="2.9" stroke-linecap="round" fill="none">
<path d="M140.9,221.3L91.4,295.6M97.4,259.3L91.4,295.6L122.6,275.8"/>
<path d="M217.1,216.5L256,296M256,259.8L256,296L228.1,273.2"/>
</g>
</svg></body></html>
